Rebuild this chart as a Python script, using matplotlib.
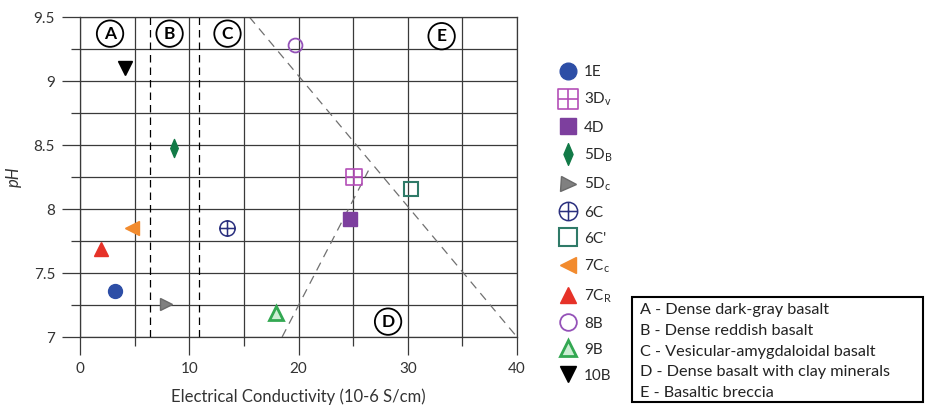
"""pH vs electrical conductivity of basalt samples, zones A-E."""
import matplotlib

matplotlib.use("Agg")
import matplotlib.pyplot as plt
from matplotlib.patches import Rectangle
from matplotlib.path import Path

plt.rcParams["font.family"] = ["Lato", "DejaVu Sans"]
plt.rcParams["mathtext.fontset"] = "custom"
plt.rcParams["mathtext.rm"] = "Lato"
plt.rcParams["mathtext.it"] = "Lato:italic"

# samples: conductivity (10-6 S/cm) and pH
sample_labels = [
    "1E", "3D$_{\\mathrm{v}}$", "4D", "5D$_{\\mathrm{B}}$", "5D$_{\\mathrm{c}}$", "6C",
    "6C'", "7C$_{\\mathrm{c}}$", "7C$_{\\mathrm{R}}$", "8B", "9B", "10B",
]
conductivity = [3.2, 25.1, 24.7, 8.6, 7.9, 13.5, 30.3, 4.8, 1.9, 19.7, 17.9, 4.1]
ph = [7.36, 8.25, 7.92, 8.48, 7.26, 7.85, 8.16, 7.85, 7.69, 9.28, 7.19, 9.10]

# zone boundaries (data coords)
vertical_bounds = [6.45, 10.9]
diagonal_bounds = [([15.5, 40.0], [9.5, 7.0]), ([18.5, 26.4], [7.0, 8.3])]

# zone labels
zone_letters = ["A", "B", "C", "E", "D"]
zone_x = [2.75, 8.2, 13.5, 33.1, 28.2]
zone_y = [9.37, 9.37, 9.37, 9.35, 7.12]

zone_names = [
    "A - Dense dark-gray basalt",
    "B - Dense reddish basalt",
    "C - Vesicular-amygdaloidal basalt",
    "D - Dense basalt with clay minerals",
    "E - Basaltic breccia",
]

# marker styles
square_cross = Path(
    [(-1, -1), (1, -1), (1, 1), (-1, 1), (-1, -1), (0, -1), (0, 1), (-1, 0), (1, 0)],
    [Path.MOVETO, Path.LINETO, Path.LINETO, Path.LINETO, Path.CLOSEPOLY,
     Path.MOVETO, Path.LINETO, Path.MOVETO, Path.LINETO],
)
circle_cross = Path.make_compound_path(
    Path.unit_circle(),
    Path([(-1, 0), (1, 0), (0, -1), (0, 1)],
         [Path.MOVETO, Path.LINETO, Path.MOVETO, Path.LINETO]),
)
thin_diamond = Path(
    [(0, -1), (0.42, 0), (0, 1), (-0.42, 0), (0, -1)],
    [Path.MOVETO, Path.LINETO, Path.LINETO, Path.LINETO, Path.CLOSEPOLY],
)

styles = [
    dict(marker="o", ms=10, mfc="#2d4ea6", mec="#2d4ea6"),
    dict(marker=square_cross, ms=12, mfc="none", mec="#b44fb8", mew=1.2),
    dict(marker="s", ms=10, mfc="#7d3f9e", mec="#7d3f9e"),
    dict(marker=thin_diamond, ms=13, mfc="#127a47", mec="#127a47"),
    dict(marker=">", ms=9, mfc="#808080", mec="#6a6a6a"),
    dict(marker=circle_cross, ms=11, mfc="none", mec="#2a2f7e", mew=1.1),
    dict(marker="s", ms=10.5, mfc="none", mec="#2f7a68", mew=1.5),
    dict(marker="<", ms=10, mfc="#f28b2e", mec="#f28b2e"),
    dict(marker="^", ms=10, mfc="#e63228", mec="#e63228"),
    dict(marker="o", ms=10, mfc="none", mec="#9452b8", mew=1.3),
    dict(marker="^", ms=10, mfc="#cdeed4", mec="#33a852", mew=2),
    dict(marker="v", ms=10, mfc="black", mec="black"),
]

GRID = "#3a3a3a"

fig = plt.figure(figsize=[9.3, 4.05], dpi=100)
ax = fig.add_axes([80 / 930, 1 - 337 / 405, 437 / 930, 320 / 405])

ax.set_xlim(0, 40)
ax.set_ylim(7, 9.5)
ax.set_xticks(range(0, 41, 10))
ax.set_xticks(range(5, 40, 10), minor=True)
ax.set_yticks([7, 7.5, 8, 8.5, 9, 9.5])
ax.set_yticklabels(["7", "7.5", "8", "8.5", "9", "9.5"])
ax.set_yticks([7.25, 7.75, 8.25, 8.75, 9.25], minor=True)
ax.grid(True, which="both", color=GRID, lw=0.9)
ax.set_axisbelow(True)
ax.tick_params(which="major", length=13, width=0.9, color=GRID,
               labelsize=11, labelcolor="#333333", pad=5)
ax.tick_params(which="minor", length=6.5, width=0.9, color=GRID)
for spine in ax.spines.values():
    spine.set_color(GRID)
    spine.set_linewidth(0.9)

for xb in vertical_bounds:
    ax.plot([xb, xb], [7, 9.5], color="black", lw=0.9, ls=(0, (6, 4)), zorder=2)
for xs, ys in diagonal_bounds:
    ax.plot(xs, ys, color="#707070", lw=0.9, ls=(0, (7, 5)), zorder=2)

handles = []
for x, y, st in zip(conductivity, ph, styles):
    (h,) = ax.plot([x], [y], ls="none", zorder=4, clip_on=False, **st)
    handles.append(h)

for letter, zx, zy in zip(zone_letters, zone_x, zone_y):
    ax.text(zx, zy, letter, ha="center", va="center", fontsize=12.5,
            fontweight="bold", zorder=5,
            bbox=dict(boxstyle="circle,pad=0.3", fc="white", ec="black", lw=1.3))

ax.set_xlabel("Electrical Conductivity (10-6 S/cm)", fontsize=12, color="#333333")
ax.xaxis.set_label_coords(0.5, -0.16)
ax.set_ylabel("pH", fontsize=12, fontstyle="italic", color="#333333")
ax.yaxis.set_label_coords(-0.133, 0.5)

ax.legend(handles, sample_labels, loc="upper left",
          bbox_to_anchor=(559 / 930, 1 - 65 / 405), bbox_transform=fig.transFigure,
          frameon=False, fontsize=11, markerscale=1.2, handlelength=1.2,
          handletextpad=0.45, labelspacing=0.79, borderpad=0, borderaxespad=0,
          labelcolor="#2a2a2a")

fig.add_artist(Rectangle((632 / 930, 3 / 405), 291 / 930, 105 / 405,
                         transform=fig.transFigure, fill=False, ec="black", lw=1.5))
for i, name in enumerate(zone_names):
    fig.text(640 / 930, 1 - (310 + 20.8 * i) / 405, name, fontsize=11.7,
             va="center", ha="left", color="#222222")

plt.savefig("out.png", dpi=100)
plt.close()
